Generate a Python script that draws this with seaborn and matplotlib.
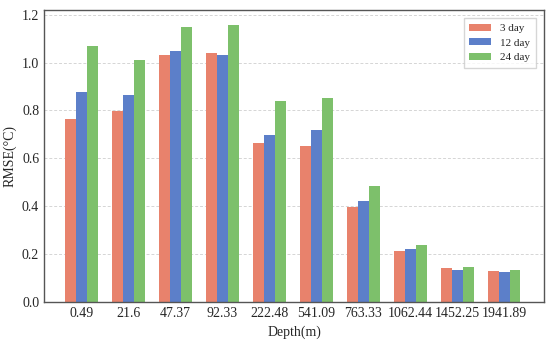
import matplotlib
matplotlib.use("Agg")
import matplotlib.pyplot as plt
import seaborn as sns
import pandas as pd

depths = ["0.49", "21.6", "47.37", "92.33", "222.48", "541.09", "763.33", "1062.44", "1452.25", "1941.89"]
day3 = [0.764, 0.797, 1.030, 1.040, 0.664, 0.651, 0.398, 0.215, 0.140, 0.130]
day12 = [0.879, 0.865, 1.048, 1.030, 0.698, 0.719, 0.420, 0.220, 0.135, 0.125]
day24 = [1.071, 1.011, 1.150, 1.155, 0.840, 0.850, 0.486, 0.240, 0.145, 0.132]
series = ["3 day", "12 day", "24 day"]
colors = ["#E8826C", "#5C7FC9", "#7DC06B"]

rows = []
for name, vals in zip(series, [day3, day12, day24]):
    for d, v in zip(depths, vals):
        rows.append({"Depth": d, "RMSE": v, "Series": name})
df = pd.DataFrame(rows)

sns.set_style("white")
plt.rcParams['font.family'] = ['Liberation Serif', 'DejaVu Serif']

fig = plt.figure(figsize=(5.5, 3.42), dpi=100)
ax = fig.add_axes([0.08, 0.117, 0.909, 0.854])
sns.barplot(data=df, x="Depth", y="RMSE", hue="Series", order=depths,
            hue_order=series, palette=colors, width=0.7, ax=ax,
            saturation=1, edgecolor="none", linewidth=0)

ax.set_ylim(0, 1.22)
ax.set_xlim(-0.8, 9.85)
ax.set_yticks([0.0, 0.2, 0.4, 0.6, 0.8, 1.0, 1.2])
ax.set_yticklabels(["0.0", "0.2", "0.4", "0.6", "0.8", "1.0", "1.2"])
ax.yaxis.grid(True, linestyle=(0, (3, 2)), color="#d5d5d5", linewidth=0.7)
ax.set_axisbelow(True)
ax.tick_params(axis="both", direction="in", labelsize=10, length=3, color="#222222")
ax.set_xlabel("Depth(m)", fontsize=10)
ax.set_ylabel("RMSE(°C)", fontsize=10)
for s in ax.spines.values():
    s.set_color("#555555")
    s.set_linewidth(1.0)
ax.legend(loc="upper right", fontsize=8, frameon=True, fancybox=False,
          edgecolor="#cccccc", handlelength=2.0, handleheight=0.6,
          labelspacing=0.45, borderpad=0.5, bbox_to_anchor=(0.995, 0.99))

fig.savefig("out.png", dpi=100)
